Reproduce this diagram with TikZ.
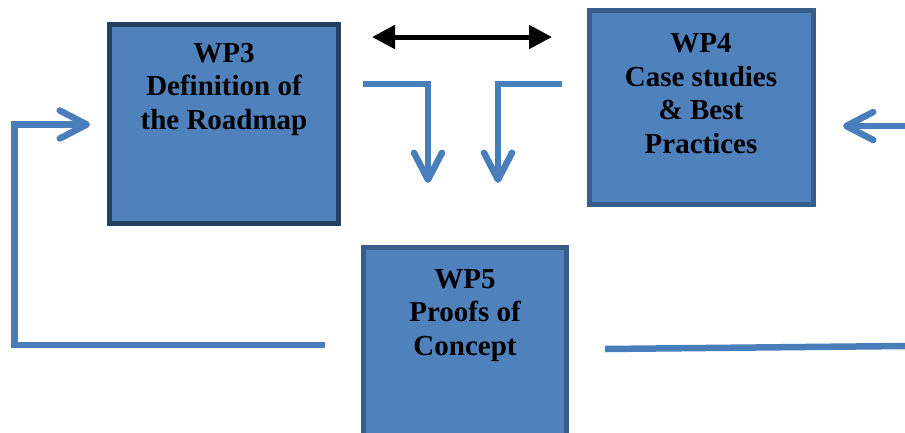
\documentclass[tikz,border=0pt]{standalone}
\usepackage{fontspec}
\setmainfont{Liberation Serif}
\usetikzlibrary{arrows.meta}
\definecolor{boxfill}{HTML}{4F81BD}
\definecolor{darkedge}{HTML}{243F60}
\definecolor{edge}{HTML}{385D8A}
\definecolor{flow}{HTML}{4A7EBB}
\begin{document}
\begin{tikzpicture}[x=1pt,y=-1pt,
  wpbox/.style={rectangle, draw=edge, fill=boxfill, line width=5pt, inner sep=0pt},
  lbl/.style={align=center, inner sep=0pt, font=\fontsize{29}{33.5}\selectfont\bfseries, anchor=base},
  flowline/.style={draw=flow, line width=6.5pt, line join=miter},
  chev/.style={-{Straight Barb[length=27pt,width=28pt,round]}},
  both/.style={line width=5pt, {Triangle[length=23pt,width=23pt]}-{Triangle[length=23pt,width=23pt]}},
]
\useasboundingbox (0,0) rectangle (905,432);
\clip (0,0) rectangle (905,432);

% boxes
\node[wpbox, draw=darkedge, minimum width=229pt, minimum height=199pt] (wp3) at (224,124) {};
\node[wpbox, minimum width=224pt, minimum height=194pt] (wp4) at (701.5,107.5) {};
\node[wpbox, minimum width=203pt, minimum height=200pt] (wp5) at (465,347.5) {};

% labels (anchor = baseline of the last line)
\node[lbl] (t3) at (224,129) {WP3\\Definition of\\the Roadmap};
\node[lbl] (t4) at (701,153) {WP4\\Case studies\\\& Best\\Practices};
\node[lbl] (t5) at (465,355) {WP5\\Proofs of\\Concept};

% free ends
\coordinate (d1) at (372,37);
\coordinate (d2) at (552,37);
\coordinate (a1s) at (363,84);
\coordinate (a1c) at (428,84);
\coordinate (a1e) at (428,183);
\coordinate (a2s) at (562,84);
\coordinate (a2c) at (498,84);
\coordinate (a2e) at (498,183);
\coordinate (fs) at (325,345);
\coordinate (fc1) at (14.5,345);
\coordinate (fc2) at (14.5,124.5);
\coordinate (fe) at (90,124.5);
\coordinate (rs) at (905,126);
\coordinate (re) at (843,126);
\coordinate (ls) at (605,349);
\coordinate (le) at (905,346);

% connectors
\draw[both] (d1) -- (d2);
\draw[flowline, chev] (a1s) -- (a1c) -- (a1e);
\draw[flowline, chev] (a2s) -- (a2c) -- (a2e);
\draw[flowline, chev] (fs) -- (fc1) -- (fc2) -- (fe);
\draw[flowline, chev] (rs) -- (re);
\draw[flowline] (ls) -- (le);
\end{tikzpicture}
\end{document}
